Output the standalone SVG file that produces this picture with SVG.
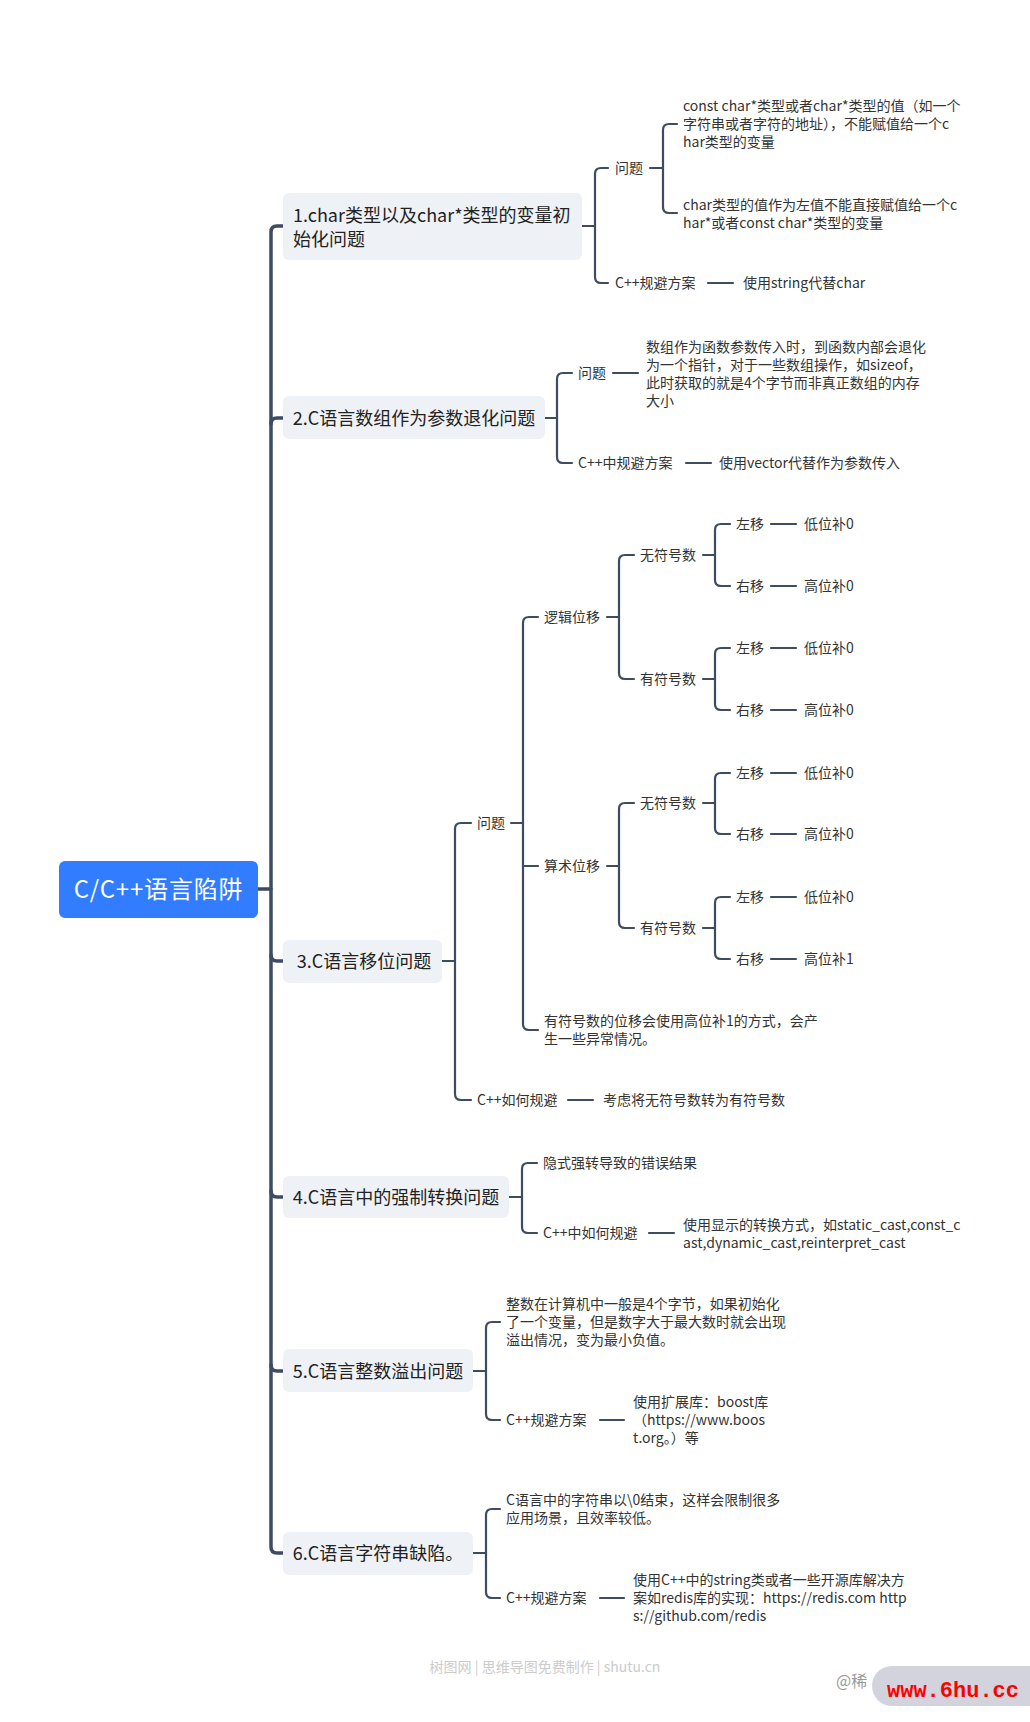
<svg xmlns="http://www.w3.org/2000/svg" width="1030" height="1722" viewBox="0 0 1030 1722">
<style>
text{font-family:"Noto Sans CJK SC","Noto Sans",sans-serif;}
.box{fill:#eef1f5;}
.root{fill:#317cff;}
.rt{font-size:24px;fill:#ffffff;letter-spacing:0.8px;}
.nt{font-size:18px;fill:#222222;}
.t{font-size:14px;fill:#333333;}
.c{fill:none;stroke:#3d4b63;stroke-width:2.2;stroke-linecap:round;stroke-linejoin:round;}
.tr{fill:none;stroke:#3d4b63;stroke-width:3.5;stroke-linecap:round;stroke-linejoin:round;}
.wm{font-size:14px;fill:#cccccc;}
</style>
<rect width="1030" height="1722" fill="#ffffff"/>

<g id="connectors">
  <path class="tr" d="M258 889 H271"/>
  <path class="tr" d="M283 226 H277 Q271 226 271 232 V1547 Q271 1553 277 1553 H283"/>
  <path class="tr" d="M271 424 Q271 418 277 418 H283"/>
  <path class="tr" d="M271 955 Q271 961 277 961 H283"/>
  <path class="tr" d="M271 1191 Q271 1197 277 1197 H283"/>
  <path class="tr" d="M271 1365 Q271 1371 277 1371 H283"/>
  <path class="c" d="M582 226 H595"/>
  <path class="c" d="M608 168 H601 Q595 168 595 174 V277 Q595 283 601 283 H608"/>
  <path class="c" d="M650 168 H663"/>
  <path class="c" d="M677 124 H669 Q663 124 663 130 V207 Q663 213 669 213 H677"/>
  <path class="c" d="M708 283 H733"/>
  <path class="c" d="M545 418 H557"/>
  <path class="c" d="M572 373 H563 Q557 373 557 379 V457 Q557 463 563 463 H572"/>
  <path class="c" d="M613 373 H638"/>
  <path class="c" d="M686 463 H711"/>
  <path class="c" d="M442 961 H455"/>
  <path class="c" d="M471 823 H461 Q455 823 455 829 V1094 Q455 1100 461 1100 H471"/>
  <path class="c" d="M511 823 H523"/>
  <path class="c" d="M538 617 H529 Q523 617 523 623 V1024 Q523 1030 529 1030 H538"/>
  <path class="c" d="M523 866 H538"/>
  <path class="c" d="M607 617 H619"/>
  <path class="c" d="M634 555 H625 Q619 555 619 561 V673 Q619 679 625 679 H634"/>
  <path class="c" d="M703 555 H715"/>
  <path class="c" d="M730 524 H721 Q715 524 715 530 V580 Q715 586 721 586 H730"/>
  <path class="c" d="M771 524 H796"/>
  <path class="c" d="M771 586 H796"/>
  <path class="c" d="M703 679 H715"/>
  <path class="c" d="M730 648 H721 Q715 648 715 654 V704 Q715 710 721 710 H730"/>
  <path class="c" d="M771 648 H796"/>
  <path class="c" d="M771 710 H796"/>
  <path class="c" d="M607 866 H619"/>
  <path class="c" d="M634 803 H625 Q619 803 619 809 V922 Q619 928 625 928 H634"/>
  <path class="c" d="M703 803 H715"/>
  <path class="c" d="M730 773 H721 Q715 773 715 779 V828 Q715 834 721 834 H730"/>
  <path class="c" d="M771 773 H796"/>
  <path class="c" d="M771 834 H796"/>
  <path class="c" d="M703 928 H715"/>
  <path class="c" d="M730 897 H721 Q715 897 715 903 V953 Q715 959 721 959 H730"/>
  <path class="c" d="M771 897 H796"/>
  <path class="c" d="M771 959 H796"/>
  <path class="c" d="M568 1100 H593"/>
  <path class="c" d="M509 1197 H522"/>
  <path class="c" d="M537 1163 H528 Q522 1163 522 1169 V1227 Q522 1233 528 1233 H537"/>
  <path class="c" d="M649 1233 H674"/>
  <path class="c" d="M473 1371 H486"/>
  <path class="c" d="M500 1322 H492 Q486 1322 486 1328 V1414 Q486 1420 492 1420 H500"/>
  <path class="c" d="M600 1420 H624"/>
  <path class="c" d="M473 1553 H486"/>
  <path class="c" d="M500 1509 H492 Q486 1509 486 1515 V1592 Q486 1598 492 1598 H500"/>
  <path class="c" d="M600 1598 H624"/>
</g>

<g id="root">
  <rect class="root" x="59" y="861" width="199" height="57" rx="6"/>
  <text class="rt" x="158.5" y="898" text-anchor="middle">C/C++语言陷阱</text>
</g>

<g id="n1">
  <rect class="box" x="283" y="193" width="299" height="67" rx="6"/>
  <text class="nt" x="293" y="222">1.char类型以及char*类型的变量初</text>
  <text class="nt" x="293" y="246">始化问题</text>
</g>
<g id="n1-q"><text class="t" x="615" y="173">问题</text></g>
<g id="n1-q1">
  <text class="t" x="683" y="111">const char*类型或者char*类型的值（如一个</text>
  <text class="t" x="683" y="129">字符串或者字符的地址），不能赋值给一个c</text>
  <text class="t" x="683" y="147">har类型的变量</text>
</g>
<g id="n1-q2">
  <text class="t" x="683" y="210">char类型的值作为左值不能直接赋值给一个c</text>
  <text class="t" x="683" y="228">har*或者const char*类型的变量</text>
</g>
<g id="n1-s"><text class="t" x="615" y="288">C++规避方案</text></g>
<g id="n1-s1"><text class="t" x="743" y="288">使用string代替char</text></g>

<g id="n2">
  <rect class="box" x="283" y="396" width="262" height="43" rx="6"/>
  <text class="nt" x="414" y="425" text-anchor="middle">2.C语言数组作为参数退化问题</text>
</g>
<g id="n2-q"><text class="t" x="578" y="378">问题</text></g>
<g id="n2-q1">
  <text class="t" x="646" y="352">数组作为函数参数传入时，到函数内部会退化</text>
  <text class="t" x="646" y="370">为一个指针，对于一些数组操作，如sizeof，</text>
  <text class="t" x="646" y="388">此时获取的就是4个字节而非真正数组的内存</text>
  <text class="t" x="646" y="406">大小</text>
</g>
<g id="n2-s"><text class="t" x="578" y="468">C++中规避方案</text></g>
<g id="n2-s1"><text class="t" x="719" y="468">使用vector代替作为参数传入</text></g>

<g id="n3">
  <rect class="box" x="283" y="940" width="159" height="43" rx="6"/>
  <text class="nt" x="364" y="968" text-anchor="middle">3.C语言移位问题</text>
</g>
<g id="n3-q"><text class="t" x="477" y="828">问题</text></g>
<g id="n3-l"><text class="t" x="544" y="622">逻辑位移</text></g>
<g id="n3-lu"><text class="t" x="640" y="560">无符号数</text></g>
<g id="n3-lu-l"><text class="t" x="736" y="529">左移</text></g>
<g id="n3-lu-l1"><text class="t" x="804" y="529">低位补0</text></g>
<g id="n3-lu-r"><text class="t" x="736" y="591">右移</text></g>
<g id="n3-lu-r1"><text class="t" x="804" y="591">高位补0</text></g>
<g id="n3-ls"><text class="t" x="640" y="684">有符号数</text></g>
<g id="n3-ls-l"><text class="t" x="736" y="653">左移</text></g>
<g id="n3-ls-l1"><text class="t" x="804" y="653">低位补0</text></g>
<g id="n3-ls-r"><text class="t" x="736" y="715">右移</text></g>
<g id="n3-ls-r1"><text class="t" x="804" y="715">高位补0</text></g>
<g id="n3-a"><text class="t" x="544" y="871">算术位移</text></g>
<g id="n3-au"><text class="t" x="640" y="808">无符号数</text></g>
<g id="n3-au-l"><text class="t" x="736" y="778">左移</text></g>
<g id="n3-au-l1"><text class="t" x="804" y="778">低位补0</text></g>
<g id="n3-au-r"><text class="t" x="736" y="839">右移</text></g>
<g id="n3-au-r1"><text class="t" x="804" y="839">高位补0</text></g>
<g id="n3-as"><text class="t" x="640" y="933">有符号数</text></g>
<g id="n3-as-l"><text class="t" x="736" y="902">左移</text></g>
<g id="n3-as-l1"><text class="t" x="804" y="902">低位补0</text></g>
<g id="n3-as-r"><text class="t" x="736" y="964">右移</text></g>
<g id="n3-as-r1"><text class="t" x="804" y="964">高位补1</text></g>
<g id="n3-note">
  <text class="t" x="544" y="1026">有符号数的位移会使用高位补1的方式，会产</text>
  <text class="t" x="544" y="1044">生一些异常情况。</text>
</g>
<g id="n3-s"><text class="t" x="477" y="1105">C++如何规避</text></g>
<g id="n3-s1"><text class="t" x="603" y="1105">考虑将无符号数转为有符号数</text></g>

<g id="n4">
  <rect class="box" x="283" y="1176" width="226" height="42" rx="6"/>
  <text class="nt" x="396" y="1204" text-anchor="middle">4.C语言中的强制转换问题</text>
</g>
<g id="n4-q"><text class="t" x="543" y="1168">隐式强转导致的错误结果</text></g>
<g id="n4-s"><text class="t" x="543" y="1238">C++中如何规避</text></g>
<g id="n4-s1">
  <text class="t" x="683" y="1230">使用显示的转换方式，如static_cast,const_c</text>
  <text class="t" x="683" y="1248">ast,dynamic_cast,reinterpret_cast</text>
</g>

<g id="n5">
  <rect class="box" x="283" y="1349" width="190" height="43" rx="6"/>
  <text class="nt" x="378" y="1378" text-anchor="middle">5.C语言整数溢出问题</text>
</g>
<g id="n5-q">
  <text class="t" x="506" y="1309">整数在计算机中一般是4个字节，如果初始化</text>
  <text class="t" x="506" y="1327">了一个变量，但是数字大于最大数时就会出现</text>
  <text class="t" x="506" y="1345">溢出情况，变为最小负值。</text>
</g>
<g id="n5-s"><text class="t" x="506" y="1425">C++规避方案</text></g>
<g id="n5-s1">
  <text class="t" x="633" y="1407">使用扩展库：boost库</text>
  <text class="t" x="633" y="1425">（https://www.boos</text>
  <text class="t" x="633" y="1443">t.org。）等</text>
</g>

<g id="n6">
  <rect class="box" x="283" y="1532" width="190" height="43" rx="6"/>
  <text class="nt" x="378" y="1560" text-anchor="middle">6.C语言字符串缺陷。</text>
</g>
<g id="n6-q">
  <text class="t" x="506" y="1505">C语言中的字符串以\0结束，这样会限制很多</text>
  <text class="t" x="506" y="1523">应用场景，且效率较低。</text>
</g>
<g id="n6-s"><text class="t" x="506" y="1603">C++规避方案</text></g>
<g id="n6-s1">
  <text class="t" x="633" y="1585">使用C++中的string类或者一些开源库解决方</text>
  <text class="t" x="633" y="1603">案如redis库的实现：https://redis.com http</text>
  <text class="t" x="633" y="1621">s://github.com/redis</text>
</g>

<text class="wm" x="545" y="1672" text-anchor="middle">树图网 | 思维导图免费制作 | shutu.cn</text>
<text x="836" y="1687" style="font-size:16px;fill:#999999;">@稀</text>
<rect x="872" y="1666" width="180" height="40" rx="20" fill="#d3d3dd"/>
<text x="887" y="1697" style="font-family:'Liberation Mono',monospace;font-size:22px;font-weight:bold;fill:#ff0000;">www.6hu.cc</text>
</svg>
